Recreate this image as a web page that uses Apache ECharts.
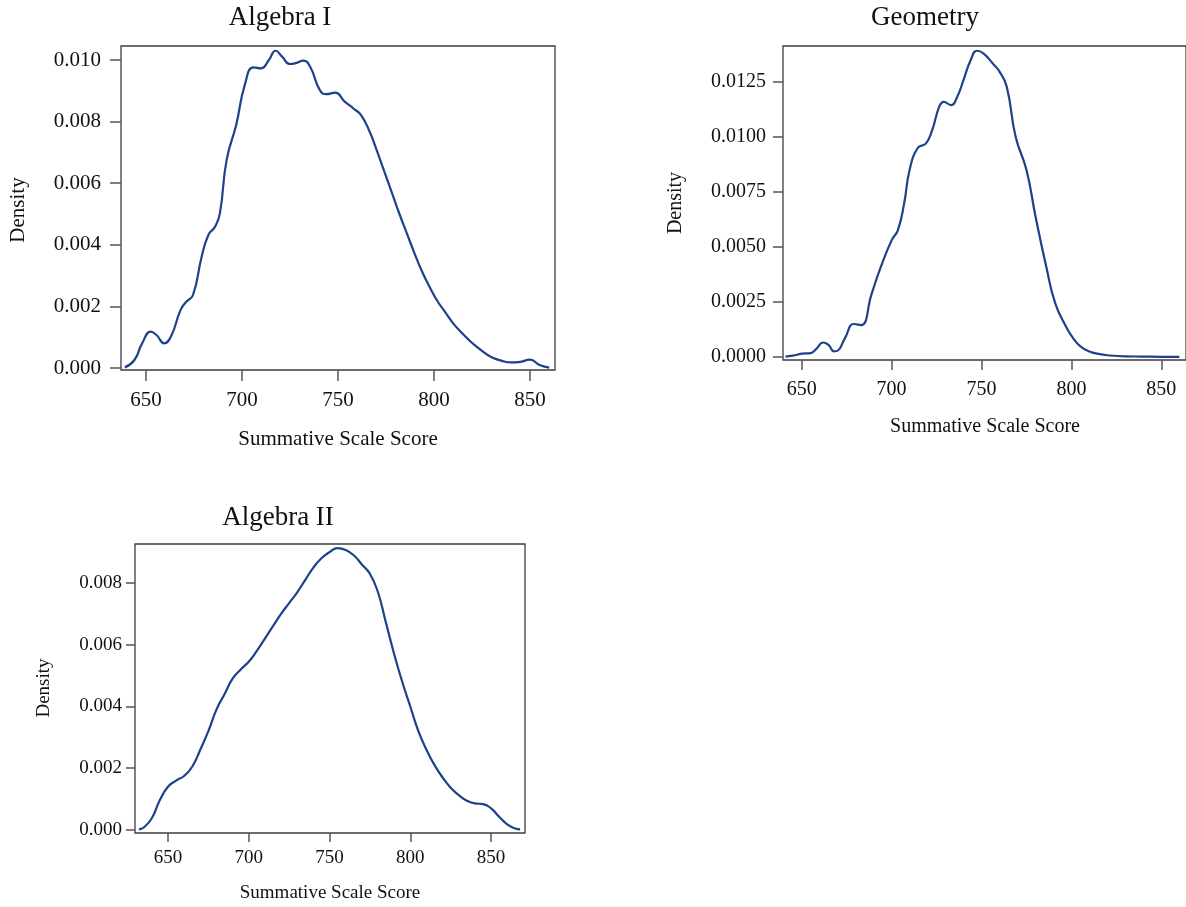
<!DOCTYPE html>
<html>
<head>
<meta charset="utf-8">
<script src="https://cdn.jsdelivr.net/npm/echarts@6/dist/echarts.min.js"></script>
<style>
html,body{margin:0;padding:0;background:#fff;}
#chart{width:1186px;height:907px;}
</style>
</head>
<body>
<div id="chart"></div>
<script>
// ---- Data ----
var panelTitles = ['Algebra I', 'Geometry', 'Algebra II'];
var xAxisName = 'Summative Scale Score';
var yAxisName = 'Density';

var xTicks = [650, 700, 750, 800, 850];
var alg1YTicks = [0.000, 0.002, 0.004, 0.006, 0.008, 0.010];
var geoYTicks = [0.0000, 0.0025, 0.0050, 0.0075, 0.0100, 0.0125];
var alg2YTicks = [0.000, 0.002, 0.004, 0.006, 0.008];

var alg1Score = [639,644,648,652.5,655.5,659.5,663,668,671,674.5,679,682.5,686,688.5,692,697,701.5,706,710,714,717.5,721,725,728,732,735.5,740.5,744,748.5,753.5,758,762,766.5,770,774,778,782,786,790,794,798,802,806,810,814,818,822,826,830,835,840,845,850,855,860];
var alg1Density = [0.00002,0.00026,0.0008,0.00118,0.00107,0.0008,0.00102,0.00188,0.00215,0.00237,0.00361,0.00432,0.00459,0.00502,0.00675,0.0079,0.0092,0.00976,0.00973,0.0100,0.0103,0.0101,0.00987,0.0099,0.00998,0.00978,0.00903,0.00889,0.00894,0.00865,0.00843,0.00821,0.00767,0.0071,0.0064,0.0057,0.0050,0.00435,0.0037,0.0031,0.0026,0.00215,0.0018,0.00145,0.00117,0.00092,0.0007,0.00051,0.00035,0.00024,0.00018,0.0002,0.00027,0.0001,0.00001];

var geoScore = [641,645,650,655,658,662,665,668,670,674,679,683,689,694,700,703.5,707,710,714.5,719,722.5,726.5,729,733,736.5,740,744,747.5,751,756.5,760,764,769,775,780,786,791,797,801,805,810,815,820,830,840,850,860];
var geoDensity = [0.00002,0.00006,0.00015,0.00018,0.00036,0.00066,0.00054,0.00026,0.00029,0.00085,0.0015,0.00145,0.0029,0.0041,0.0053,0.00577,0.0070,0.0085,0.0095,0.0097,0.0103,0.01138,0.0116,0.01145,0.01183,0.0126,0.0135,0.01392,0.0138,0.01332,0.01297,0.01229,0.0100,0.0085,0.0064,0.0041,0.00244,0.00138,0.00085,0.00048,0.00025,0.00014,0.00008,0.00003,0.00002,0.00001,0.00001];

var alg2Score = [632,635,640,645,650,655,660,665,670,675,680,685,690,695,700,705,710,715,720,725,730,735,740,745,750,755,760,765,770,775,780,785,790,795,800,805,810,815,820,825,830,835,840,845,850,855,860,865,868];
var alg2Density = [0.00002,0.00008,0.00038,0.00097,0.0014,0.0016,0.00175,0.00205,0.0026,0.0032,0.0039,0.0044,0.0049,0.0052,0.00545,0.0058,0.0062,0.0066,0.0070,0.00735,0.0077,0.0081,0.0085,0.0088,0.0090,0.00913,0.00907,0.0089,0.0086,0.0083,0.0077,0.0067,0.0057,0.0048,0.0040,0.0032,0.0026,0.0021,0.0017,0.00137,0.00113,0.00095,0.00086,0.00084,0.0007,0.00043,0.00018,0.00005,0.00002];

function pairs(xs, ys) { return xs.map(function (x, i) { return [x, ys[i]]; }); }

var SERIF = '"Liberation Serif", "Times New Roman", "DejaVu Serif", serif';
var LINE = '#1d428a';
var BORDER = '#3c3c3c';
var TICK = '#555';

var panels = [
  { grid: {left:121, top:46, width:434, height:324}, xmin:637, xmax:863, ymin:-0.000065, ymax:0.010455,
    yticks: alg1YTicks, dec: 3, fs: 21, xm: 20, ym: 20, tl: 11,
    data: pairs(alg1Score, alg1Density),
    title: [280, 18], xname: [338, 439], yname: [18, 210], tfs: 27, nfs: 21 },
  { grid: {left:783, top:46, width:409, height:314}, xmin:639.6, xmax:863.7, ymin:-0.000136, ymax:0.014136,
    yticks: geoYTicks, dec: 4, fs: 20, xm: 20, ym: 17, tl: 10,
    data: pairs(geoScore, geoDensity),
    title: [925, 18], xname: [985, 427], yname: [676, 203], tfs: 27, nfs: 20 },
  { grid: {left:135, top:544, width:390, height:289}, xmin:629.6, xmax:871, ymin:-0.0000972, ymax:0.009263,
    yticks: alg2YTicks, dec: 3, fs: 19, xm: 16, ym: 13, tl: 9,
    data: pairs(alg2Score, alg2Density),
    title: [278, 518], xname: [330, 893], yname: [44, 688], tfs: 27, nfs: 19 }
];

var option = { animation: false, backgroundColor: '#fff', grid: [], xAxis: [], yAxis: [], series: [], graphic: [] };

panels.forEach(function (p, i) {
  option.grid.push(Object.assign({ show: true, borderColor: BORDER, borderWidth: 1.3, backgroundColor: 'transparent', containLabel: false }, p.grid));
  option.xAxis.push({
    type: 'value', gridIndex: i, min: p.xmin, max: p.xmax,
    axisLine: { show: false, onZero: false },
    splitLine: { show: false },
    axisTick: { show: true, inside: false, length: p.tl, lineStyle: { color: TICK, width: 1.5 }, customValues: xTicks },
    axisLabel: { show: true, margin: p.xm, fontFamily: SERIF, fontSize: p.fs, color: '#111', customValues: xTicks,
      formatter: function (v) { return String(Math.round(v)); } }
  });
  option.yAxis.push({
    type: 'value', gridIndex: i, min: p.ymin, max: p.ymax,
    axisLine: { show: false, onZero: false },
    splitLine: { show: false },
    axisTick: { show: true, inside: false, length: p.tl, lineStyle: { color: TICK, width: 1.5 }, customValues: p.yticks },
    axisLabel: { show: true, margin: p.ym, fontFamily: SERIF, fontSize: p.fs, color: '#111', customValues: p.yticks,
      formatter: (function (d) { return function (v) { return Math.abs(v) < 1e-9 ? (0).toFixed(d) : v.toFixed(d); }; })(p.dec) }
  });
  option.series.push({
    type: 'line', xAxisIndex: i, yAxisIndex: i, data: p.data, smooth: 0.5, showSymbol: false,
    lineStyle: { color: LINE, width: 2.2 }, clip: true
  });
  option.graphic.push({ type: 'text', style: { text: panelTitles[i], x: p.title[0], y: p.title[1], align: 'center', verticalAlign: 'middle', font: p.tfs + 'px ' + SERIF, fill: '#111' } });
  option.graphic.push({ type: 'text', style: { text: xAxisName, x: p.xname[0], y: p.xname[1], align: 'center', verticalAlign: 'middle', font: p.nfs + 'px ' + SERIF, fill: '#111' } });
  option.graphic.push({ type: 'text', x: p.yname[0], y: p.yname[1], rotation: Math.PI / 2, style: { text: yAxisName, x: 0, y: 0, align: 'center', verticalAlign: 'middle', font: p.nfs + 'px ' + SERIF, fill: '#111' } });
});

var chart = echarts.init(document.getElementById('chart'), null, { renderer: 'canvas' });
chart.setOption(option);
</script>
</body>
</html>
